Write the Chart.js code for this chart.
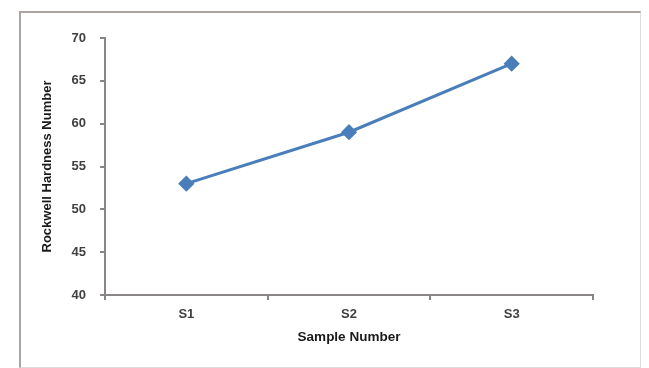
<!DOCTYPE html>
<html>
<head>
<meta charset="utf-8">
<script src="https://cdn.jsdelivr.net/npm/chart.js@4/dist/chart.umd.min.js"></script>
<style>
  body { margin: 0; background: #fff; }
  #wrap { position: relative; width: 649px; height: 368px; }
  #frame {
    position: absolute; left: 19px; top: 11px; width: 619px; height: 354px;
    border-left: 2px solid #aaa4a2; border-top: 2px solid #aaa4a2;
    border-right: 1px solid #dcdcdc; border-bottom: 1px solid #dcdcdc;
    pointer-events: none;
  }
</style>
</head>
<body>
<div id="wrap">
  <canvas id="myChart" width="649" height="368"></canvas>
  <div id="frame"></div>
</div>
<script>
// sample data
const samples = ['S1', 'S2', 'S3'];
const hardness = [53, 59, 67];
const yMin = 40, yMax = 70, yStep = 5;

const axisGrey = '#8a8686';
const tickFont = { family: 'Liberation Sans', size: 13, weight: 'bold' };

new Chart('myChart', {
  type: 'line',
  data: {
    labels: samples,
    datasets: [{
      data: hardness,
      borderColor: '#4a7ebb',
      backgroundColor: '#4a7ebb',
      borderWidth: 3,
      pointStyle: 'rectRot',
      pointRadius: 6,
      pointBackgroundColor: '#4a7ebb',
      pointBorderColor: '#4a7ebb',
      tension: 0,
      fill: false
    }]
  },
  options: {
    responsive: false,
    animation: false,
    layout: { padding: { top: 38, right: 56, bottom: 0, left: 0 } },
    plugins: { legend: { display: false }, tooltip: { enabled: false } },
    scales: {
      x: {
        offset: true,
        grid: { display: true, drawOnChartArea: false, drawTicks: true, tickLength: 5, offset: true, color: axisGrey, lineWidth: 2 },
        border: { display: true, color: axisGrey, width: 2 },
        ticks: { color: '#404040', font: tickFont, padding: 7 },
        title: {
          display: true, text: 'Sample Number', color: '#1a1a1a',
          font: { family: 'Liberation Sans', size: 13.5, weight: 'bold' },
          padding: { top: 0, bottom: 23 }
        },
        afterFit: (s) => { s.height = 73; }
      },
      y: {
        min: yMin,
        max: yMax,
        ticks: { stepSize: yStep, color: '#404040', font: tickFont, padding: 14 },
        grid: { display: true, drawOnChartArea: false, drawTicks: true, tickLength: 5, color: axisGrey, lineWidth: 2 },
        border: { display: true, color: axisGrey, width: 2 },
        title: {
          display: true, text: 'Rockwell Hardness Number', color: '#1a1a1a',
          font: { family: 'Liberation Sans', size: 13, weight: 'bold' },
          padding: { top: 40, bottom: 0 }
        },
        afterFit: (s) => { s.width = 105; }
      }
    }
  }
});
</script>
</body>
</html>
